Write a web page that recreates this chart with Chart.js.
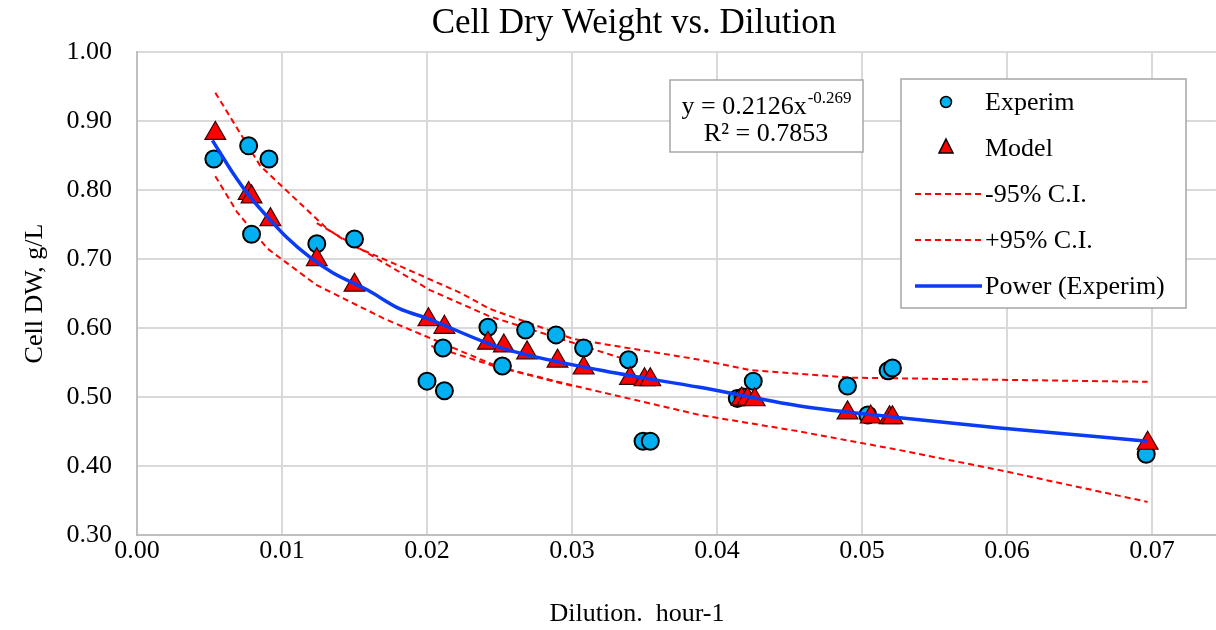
<!DOCTYPE html>
<html>
<head>
<meta charset="utf-8">
<script src="https://cdn.jsdelivr.net/npm/chart.js@4.4.0/dist/chart.umd.min.js"></script>
<style>
  html, body { margin: 0; padding: 0; background: #fff; overflow: hidden; }
  #wrap { width: 1216px; height: 630px; overflow: hidden; }
</style>
</head>
<body>
<div id="wrap"><canvas id="dwChart" width="1229" height="630"></canvas></div>
<script>
// Experimental points (blue circles)
const expX = [0.0053, 0.0077, 0.0091, 0.0079, 0.0124, 0.0150, 0.0200, 0.0211, 0.0212, 0.0242,
              0.0252, 0.0268, 0.0289, 0.0308, 0.0339, 0.0349, 0.0354, 0.0414, 0.0418, 0.0425,
              0.0490, 0.0504, 0.0518, 0.0521, 0.0696];
const expY = [0.845, 0.864, 0.845, 0.736, 0.722, 0.729, 0.523, 0.571, 0.509, 0.601,
              0.545, 0.597, 0.590, 0.571, 0.554, 0.436, 0.436, 0.498, 0.500, 0.523,
              0.516, 0.474, 0.538, 0.542, 0.417];

// Model points (red triangles)
const modelX = [0.0054, 0.0077, 0.0079, 0.0092, 0.0124, 0.0150, 0.0201, 0.0212, 0.0242, 0.0253,
                0.0269, 0.0290, 0.0308, 0.0340, 0.0350, 0.0354, 0.0417, 0.0421, 0.0426, 0.0490,
                0.0506, 0.0519, 0.0521, 0.0697];
const modelY = [0.882, 0.795, 0.790, 0.757, 0.699, 0.662, 0.612, 0.601, 0.578, 0.574,
                0.564, 0.552, 0.542, 0.527, 0.525, 0.525, 0.497, 0.497, 0.496, 0.477,
                0.471, 0.470, 0.470, 0.433];

// confidence bands
const lowerX = [0.0054, 0.0069, 0.0090, 0.0124, 0.0170, 0.0181, 0.0250, 0.0306, 0.0388, 0.0457, 0.0526, 0.0595, 0.0697];
const lowerY = [0.820, 0.768, 0.715, 0.662, 0.614, 0.604, 0.543, 0.514, 0.474, 0.450, 0.423, 0.394, 0.348];
const lowerBX = [0.0203, 0.0246, 0.0300];
const lowerBY = [0.574, 0.545, 0.516];

const upperX = [0.0054, 0.0085, 0.0131, 0.0149, 0.0181, 0.0223, 0.0243, 0.0301, 0.0388, 0.0423, 0.0492, 0.0697];
const upperY = [0.941, 0.835, 0.744, 0.719, 0.690, 0.651, 0.628, 0.584, 0.554, 0.539, 0.528, 0.522];
const upperBX = [0.0124, 0.0202, 0.0243, 0.0333];
const upperBY = [0.752, 0.655, 0.617, 0.557];

// power trendline as drawn
const trendX = [0.0052, 0.0066, 0.0078, 0.0090, 0.0103, 0.0119, 0.0135, 0.0159, 0.0181, 0.0200,
                0.0250, 0.0319, 0.0388, 0.0457, 0.0526, 0.0595, 0.0697];
const trendY = [0.872, 0.825, 0.790, 0.761, 0.732, 0.703, 0.680, 0.655, 0.628, 0.614,
                0.572, 0.539, 0.514, 0.487, 0.470, 0.455, 0.436];

const xTicks = [0.00, 0.01, 0.02, 0.03, 0.04, 0.05, 0.06, 0.07];
const chartTitle = 'Cell Dry Weight vs. Dilution';
const xTitle = 'Dilution.  hour-1';
const eqMain = 'y = 0.2126x';
const eqExp = '-0.269';
const eqR2 = 'R\u00b2 = 0.7853';
const legendLabels = ['Experim', 'Model', '-95% C.I.', '+95% C.I.', 'Power (Experim)'];

const SERIF = "'Liberation Serif', 'Times New Roman', serif";
const pts = (xs, ys) => xs.map((x, i) => ({ x: x, y: ys[i] }));

const dashed = {
    showLine: true,
    borderColor: '#ff0000',
    borderWidth: 2,
    borderDash: [6, 4],
    pointRadius: 0,
    fill: false,
    order: 3
};

const boxes = {
    id: 'boxes',
    afterDraw(chart) {
        const c = chart.ctx;
        c.save();

        // title and x axis title
        c.fillStyle = '#000';
        c.textAlign = 'center';
        c.textBaseline = 'middle';
        c.font = '35px ' + SERIF;
        c.fillText(chartTitle, 634, 24);
        c.font = '26px ' + SERIF;
        c.fillText(xTitle, 637, 614);

        // equation label
        c.fillStyle = '#fff';
        c.strokeStyle = '#a6a6a6';
        c.lineWidth = 1.5;
        c.fillRect(670, 80, 193, 72);
        c.strokeRect(670, 80, 193, 72);
        c.fillStyle = '#000';
        c.textBaseline = 'alphabetic';
        c.font = '26px ' + SERIF;
        const w1 = c.measureText(eqMain).width;
        c.font = '17px ' + SERIF;
        const w2 = c.measureText(eqExp).width;
        let x0 = 766 - (w1 + w2) / 2;
        c.font = '26px ' + SERIF;
        c.textAlign = 'left';
        c.fillText(eqMain, x0, 114);
        c.font = '17px ' + SERIF;
        c.fillText(eqExp, x0 + w1 + 1, 103);
        c.font = '26px ' + SERIF;
        c.textAlign = 'center';
        c.fillText(eqR2, 766, 141);

        // legend
        c.fillStyle = '#fff';
        c.fillRect(901, 79, 285, 229);
        c.strokeRect(901, 79, 285, 229);
        c.textAlign = 'left';
        c.textBaseline = 'middle';
        legendLabels.forEach((lab, i) => {
            const ds = chart.data.datasets.find(d => d.label === lab);
            const y = 102 + i * 46;
            if (ds.showLine) {
                c.strokeStyle = ds.borderColor;
                c.lineWidth = ds.borderWidth;
                c.setLineDash(ds.borderDash || []);
                c.beginPath();
                c.moveTo(915, y);
                c.lineTo(982, y);
                c.stroke();
                c.setLineDash([]);
            } else {
                c.fillStyle = ds.backgroundColor;
                c.strokeStyle = '#000';
                c.lineWidth = 1.5;
                c.beginPath();
                if (ds.pointStyle === 'triangle') {
                    c.moveTo(946, y - 9);
                    c.lineTo(953, y + 5);
                    c.lineTo(939, y + 5);
                    c.closePath();
                } else {
                    c.arc(946, y, 5.5, 0, Math.PI * 2);
                }
                c.fill();
                c.stroke();
            }
            c.fillStyle = '#000';
            c.font = '26px ' + SERIF;
            c.fillText(lab, 985, y + 1);
        });
        c.restore();
    }
};

new Chart(document.getElementById('dwChart'), {
    type: 'scatter',
    data: {
        datasets: [
            {
                label: 'Power (Experim)',
                data: pts(trendX, trendY),
                showLine: true,
                borderColor: '#0a3cf5',
                borderWidth: 3.5,
                pointRadius: 0,
                cubicInterpolationMode: 'monotone',
                order: 0
            },
            {
                label: 'Model',
                data: pts(modelX, modelY),
                pointStyle: 'triangle',
                pointRadius: 12,
                backgroundColor: '#ff0000',
                borderColor: '#3a0000',
                borderWidth: 1.2,
                order: 1
            },
            {
                label: 'Experim',
                data: pts(expX, expY),
                pointStyle: 'circle',
                pointRadius: 8.5,
                backgroundColor: '#00b0f0',
                borderColor: '#000',
                borderWidth: 2,
                order: 2
            },
            Object.assign({ label: '-95% C.I.', data: pts(lowerX, lowerY) }, dashed),
            Object.assign({ label: '+95% C.I.', data: pts(upperX, upperY) }, dashed),
            Object.assign({ label: 'lowerB', data: pts(lowerBX, lowerBY) }, dashed),
            Object.assign({ label: 'upperB', data: pts(upperBX, upperBY) }, dashed)
        ]
    },
    options: {
        responsive: false,
        animation: false,
        layout: { padding: { top: 52, left: 0, right: 0, bottom: 0 } },
        plugins: {
            legend: { display: false },
            tooltip: { enabled: false },
            title: { display: false }
        },
        scales: {
            x: {
                type: 'linear',
                min: 0,
                max: 0.0744,
                afterBuildTicks: s => { s.ticks = xTicks.map(v => ({ value: v })); },
                afterFit: s => { s.height = 95; },
                ticks: {
                    color: '#000',
                    padding: 1,
                    font: { family: SERIF, size: 26 },
                    callback: v => v.toFixed(2)
                },
                grid: { color: '#d9d9d9', lineWidth: 2, drawTicks: false },
                border: { color: '#bfbfbf', width: 2 },
                title: { display: false }
            },
            y: {
                min: 0.3,
                max: 1.0,
                afterFit: s => { s.width = 137; },
                ticks: {
                    stepSize: 0.1,
                    color: '#000',
                    padding: 25,
                    font: { family: SERIF, size: 26 },
                    callback: v => v.toFixed(2)
                },
                grid: { color: '#d9d9d9', lineWidth: 2, drawTicks: false },
                border: { color: '#bfbfbf', width: 2 },
                title: {
                    display: true,
                    text: 'Cell DW, g/L',
                    color: '#000',
                    font: { family: SERIF, size: 26 },
                    padding: { top: 20, bottom: 15 }
                }
            }
        }
    },
    plugins: [boxes]
});
</script>
</body>
</html>
